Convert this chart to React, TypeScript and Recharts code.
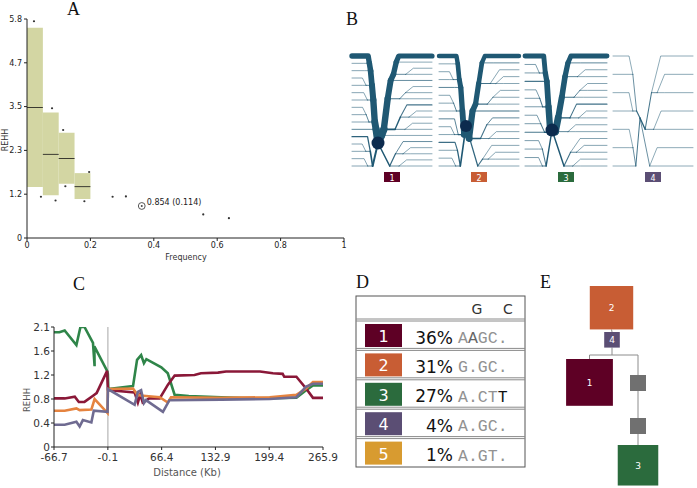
import React from 'react';
import { ScatterChart, Scatter, LineChart, Line, XAxis, YAxis, ReferenceArea, ReferenceLine } from 'recharts';

const SANS = '"DejaVu Sans", Verdana, sans-serif';
const SERIF = '"Liberation Serif", "Times New Roman", serif';
const MONO = '"Liberation Mono", "Courier New", monospace';

// haplotype colours, shared by B, D and E
const hapColors = ['#5e0025', '#c85d34', '#2b6b3d', '#5b4e74', '#d89b30'];

// ---- A: REHH against allele frequency
const freqTicks = [0, 0.2, 0.4, 0.6, 0.8, 1];
const rehhTicksA = [0, 1.168, 2.336, 3.504, 4.672, 5.84];
const rehhTickLabelsA = ['0', '1.2', '2.3', '3.5', '4.7', '5.8'];
const binFrom = [0, 0.05, 0.1, 0.15];
const binTo = [0.05, 0.1, 0.15, 0.2];
const binLow = [1.36, 1.14, 1.45, 1.04];
const binHigh = [5.61, 3.35, 2.81, 1.73];
const binMedian = [3.48, 2.23, 2.12, 1.37];
const pointFreq = [0.022, 0.079, 0.114, 0.196, 0.121, 0.044, 0.09, 0.181, 0.27, 0.312, 0.556, 0.637];
const pointRehh = [5.78, 3.46, 2.88, 1.76, 1.38, 1.1, 1.0, 0.98, 1.1, 1.11, 0.63, 0.53];
const coreFreq = [0.362];
const coreRehh = [0.854];
const coreNote = '0.854 (0.114)';

// ---- C: REHH against distance from core, one series per haplotype
const distTicks = [-66.7, -0.1, 66.4, 132.9, 199.4, 265.9];
const rehhTicksC = [0, 0.41, 0.82, 1.23, 1.64, 2.05];
const rehhTickLabelsC = ['0', '0.4', '0.8', '1.2', '1.6', '2.1'];

const hap3Dist = [-66.7, -60, -53.5, -39, -34, -29, -18.5, -16.5, -16.8, -1, -0.1, 0.5, 31, 36, 41, 44.5, 47.5, 66, 74, 82.5, 100, 140, 180, 233, 245, 253.5, 265.9];
const hap3Rehh = [1.96, 1.96, 1.99, 1.74, 2.05, 2.05, 1.78, 1.38, 1.72, 1.3, 1.25, 0.99, 1.04, 1.49, 1.57, 1.43, 1.5, 1.36, 1.26, 0.89, 0.87, 0.85, 0.83, 0.84, 0.97, 1.05, 1.05];
const hap1Dist = [-66.7, -53.5, -41, -36, -29, -18, -14, -1, -0.1, 2, 33, 37, 40, 43, 51, 64, 74, 82.5, 107, 115, 136, 146, 188, 204, 216, 218, 233, 245, 253.5, 265.9];
const hap1Rehh = [0.83, 0.83, 0.86, 0.77, 0.77, 0.88, 0.92, 1.3, 0.98, 0.97, 0.93, 0.76, 0.9, 0.76, 0.83, 0.83, 1.06, 1.22, 1.23, 1.26, 1.27, 1.29, 1.29, 1.26, 1.25, 1.2, 1.2, 1.0, 0.84, 0.84];
const hap2Dist = [-66.7, -53.5, -39, -35, -20.5, -16.5, -0.5, -0.1, 31, 36, 40, 64, 74, 78, 140, 200, 233, 245, 253.5, 265.9];
const hap2Rehh = [0.62, 0.62, 0.66, 0.63, 0.64, 0.82, 0.58, 0.99, 1.0, 0.9, 0.88, 0.85, 0.76, 0.85, 0.84, 0.85, 0.89, 1.0, 1.11, 1.11];
const hap4Dist = [-66.7, -53.5, -39, -35, -31, -20.5, -17.5, -0.5, -0.1, 33, 37, 41, 44.5, 47, 68, 76, 140, 200, 233, 245, 253.5, 265.9];
const hap4Rehh = [0.38, 0.38, 0.43, 0.35, 0.46, 0.42, 0.62, 0.6, 0.99, 0.72, 0.94, 0.97, 0.75, 0.8, 0.6, 0.8, 0.81, 0.82, 0.85, 1.03, 1.08, 1.08];

const lineSeries = [
  { name: '3', dist: hap3Dist, rehh: hap3Rehh, color: '#2f8549' },
  { name: '1', dist: hap1Dist, rehh: hap1Rehh, color: '#8a1838' },
  { name: '2', dist: hap2Dist, rehh: hap2Rehh, color: '#e5833f' },
  { name: '4', dist: hap4Dist, rehh: hap4Rehh, color: '#6f6b91' },
];

// ---- B: bifurcation diagrams (leaf = number of chromosomes on that branch)
type Tree = number | Tree[];
const bifLeftTrees: Tree[] = [
  [[[[[[[28, 1], 1], [1, 1]], [1, 1]], [[1, 1], 1]], 2], [[4, [1, 1]], [1, 1]]],
  [[[[[[22, 1], [1, 1]], 2], [[1, 1], 1]], [2, [1, 1]]], [[3, 1], [1, 1]]],
  [[[[[20, [1, 1]], 2], [[1, 1], 1]], [[1, 1], 2]], [[1, 1], [1, 1]]],
  [[[1, 1], [1, 1]], [[1, 1], 1]],
];
const bifRightTrees: Tree[] = [
  [[[[[[[30, 1], [1, 1]], 2], [[1, 1], 1]], [[3, [1, 1]], [1, 1]]], 1], [[2, [1, 1]], [1, 1]]],
  [[[[[[24, 2], [1, [1, 1]]], [[1, 1], 1]], 3], [[2, 1], [1, 1]]], [[1, [1, 1]], 1]],
  [[[[[[26, 2], [1, 1]], [[1, 1], 1]], [3, [1, 1]]], [1, 1]], [[1, [1, 1]], [1, 1]]],
  [[[1, [1, 1]], [1, 1]], [1, 1]],
];
const bifLabels = ['1', '2', '3', '4'];

// ---- D: haplotype table
const hapIds = ['1', '2', '3', '4', '5'];
const hapPercent = [36, 31, 27, 4, 1];
const hapSeq = ['AAGC.', 'G.GC.', 'A.CTT', 'A.GC.', 'A.GT.'];
const hapSeqStrong = [[1], [], [4], [], []];
const seqHeader = ['G', 'C'];

// ---- E: haplotype network (ids, frequencies; grey = inferred node)
const netNodes = ['2', '4', '1', '', '', '3'];
const netFreq = [31, 4, 36, 0, 0, 27];
const netColor = [hapColors[1], hapColors[3], hapColors[0], '#707070', '#707070', hapColors[2]];

// layout constants (pixels)
const BIF = {
  left: [352, 439, 525, 613],
  right: [432, 519, 607, 693],
  core: [378, 466, 552, 640],
  coreY: [143, 126, 130, 118],
  top: 56,
  bottom: 166,
  coreR: [6.5, 6, 6.5, 0],
  maxW: [8, 7, 7.5, 1],
};
const NET = { cx: [611.5, 612, 589.5, 638, 638, 638], top: [286, 332, 359, 375, 418, 445] };

const sumCount = (t: Tree): number => (typeof t === 'number' ? t : t.reduce((s: number, c) => s + sumCount(c), 0));
const leafCount = (t: Tree): number => (typeof t === 'number' ? 1 : t.reduce((s: number, c) => s + leafCount(c), 0));

type Seg = { pts: number[][]; w: number };

function layoutSide(tree: Tree, coreX: number, coreY: number, edgeX: number, top: number, bottom: number, maxW: number, segs: Seg[]) {
  const n = leafCount(tree);
  const dy = (bottom - top) / Math.max(1, n - 1);
  const span = edgeX - coreX;
  const base = span / 4.5;
  const clampX = (v: number) => (span > 0 ? Math.min(v, edgeX - 4) : Math.max(v, edgeX + 4));
  const total = sumCount(tree);
  const width = (c: number) => 0.6 + (maxW * c) / total;
  let li = 0;
  const place = (t: Tree, x: number, isRoot: boolean): number => {
    if (typeof t === 'number') {
      const y = top + li * dy;
      li++;
      return y;
    }
    const pc = sumCount(t);
    const kx = t.map((k) => clampX(x + base * (0.18 + 0.9 * (1 - sumCount(k) / pc))));
    const ys = t.map((k, i) => place(k, kx[i], false));
    const y = isRoot ? coreY : ys[ys.length - 1];
    t.forEach((k, i) => {
      const c = sumCount(k);
      if (typeof k === 'number') segs.push({ pts: [[x, y], [kx[i], ys[i]], [edgeX, ys[i]]], w: width(c) });
      else segs.push({ pts: [[x, y], [kx[i], ys[i]]], w: width(c) });
    });
    return y;
  };
  place(tree, coreX, true);
}

function Bifurcation({ i }: { i: number }) {
  const segs: Seg[] = [];
  layoutSide(bifLeftTrees[i], BIF.core[i], BIF.coreY[i], BIF.left[i], BIF.top, BIF.bottom, BIF.maxW[i], segs);
  layoutSide(bifRightTrees[i], BIF.core[i], BIF.coreY[i], BIF.right[i], BIF.top, BIF.bottom, BIF.maxW[i], segs);
  segs.sort((a, b) => a.w - b.w);
  const lx = (BIF.left[i] + BIF.right[i]) / 2;
  return (
    <g>
      {segs.map((s, k) => (
        <polyline
          key={k}
          points={s.pts.map((p) => p.join(',')).join(' ')}
          fill="none"
          stroke="#1f5873"
          strokeOpacity={Math.min(1, 0.35 + s.w / 2.2)}
          strokeWidth={s.w}
          strokeLinecap="round"
          strokeLinejoin="round"
        />
      ))}
      {BIF.coreR[i] > 0 && <circle cx={BIF.core[i]} cy={BIF.coreY[i]} r={BIF.coreR[i]} fill="#0c2b4e" />}
      <rect x={lx - 8} y={172} width={16} height={10} fill={hapColors[i]} />
      <text x={lx} y={180.5} fontSize={8} fill="#fff" textAnchor="middle" fontFamily={SANS}>{bifLabels[i]}</text>
    </g>
  );
}

function HapTable() {
  const x0 = 356, y0 = 296, w = 169, head = 24, rowH = 29.4;
  return (
    <g fontFamily={SANS}>
      <rect x={x0} y={y0} width={w} height={head + rowH * 5} fill="#fff" stroke="#555" strokeWidth={1} />
      <text x={477} y={313.5} fontSize={14} fill="#333" textAnchor="middle">{seqHeader[0]}</text>
      <text x={508} y={313.5} fontSize={14} fill="#333" textAnchor="middle">{seqHeader[1]}</text>
      {hapIds.map((id, i) => {
        const top = y0 + head + rowH * i;
        return (
          <g key={id}>
            <line x1={x0} x2={x0 + w} y1={top - 1} y2={top - 1} stroke="#8a8a8a" strokeWidth={1} />
            <line x1={x0} x2={x0 + w} y1={top + 1} y2={top + 1} stroke="#8a8a8a" strokeWidth={1} />
            <rect x={365} y={top + 4} width={37} height={23} fill={hapColors[i]} />
            <text x={383.5} y={top + 22} fontSize={16} fill="#fff" textAnchor="middle">{id}</text>
            <text x={453} y={top + 23.5} fontSize={17} fill="#111" textAnchor="end">{hapPercent[i]}%</text>
            <text x={458} y={top + 23} fontSize={16.5} fontFamily={MONO}>
              {hapSeq[i].split('').map((ch, k) => (
                <tspan key={k} fill={hapSeqStrong[i].includes(k) ? (i === 2 ? '#111' : '#666') : '#929292'}>{ch}</tspan>
              ))}
            </text>
          </g>
        );
      })}
    </g>
  );
}

function HapNetwork() {
  const size = netFreq.map((f) => (f > 0 ? 78 * Math.sqrt(f / 100) : 16));
  const bottom = NET.top.map((t, i) => t + size[i]);
  const edge = '#8c8c8c';
  return (
    <g fontFamily={SANS}>
      <line x1={NET.cx[0]} x2={NET.cx[1]} y1={bottom[0]} y2={NET.top[1]} stroke={edge} />
      <line x1={NET.cx[1]} x2={NET.cx[1]} y1={bottom[1]} y2={355} stroke={edge} />
      <line x1={NET.cx[2]} x2={NET.cx[3]} y1={355} y2={355} stroke={edge} />
      <line x1={NET.cx[2]} x2={NET.cx[2]} y1={355} y2={NET.top[2]} stroke={edge} />
      <line x1={NET.cx[3]} x2={NET.cx[3]} y1={355} y2={NET.top[3]} stroke={edge} />
      <line x1={NET.cx[3]} x2={NET.cx[4]} y1={bottom[3]} y2={NET.top[4]} stroke={edge} />
      <line x1={NET.cx[4]} x2={NET.cx[5]} y1={bottom[4]} y2={NET.top[5]} stroke={edge} />
      {netNodes.map((id, i) => (
        <g key={i}>
          <rect x={NET.cx[i] - size[i] / 2} y={NET.top[i]} width={size[i]} height={size[i]} fill={netColor[i]} />
          {id && (
            <text x={NET.cx[i]} y={NET.top[i] + size[i] / 2 + 3.5} fontSize={9} fill="#fff" textAnchor="middle">{id}</text>
          )}
        </g>
      ))}
    </g>
  );
}

const dotShape = (p: any) => <circle cx={p.cx} cy={p.cy} r={1.1} fill="#333" />;
const coreShape = (p: any) => (
  <g>
    <circle cx={p.cx} cy={p.cy} r={3.4} fill="none" stroke="#444" strokeWidth={0.9} />
    <circle cx={p.cx} cy={p.cy} r={1} fill="#444" />
    <text x={p.cx + 5} y={p.cy - 1} fontSize={8} fill="#222" fontFamily={SANS}>{coreNote}</text>
  </g>
);

export default function App() {
  const points = pointFreq.map((f, i) => ({ x: f, y: pointRehh[i] }));
  const corePoint = coreFreq.map((f, i) => ({ x: f, y: coreRehh[i] }));
  const tickA = { fontSize: 8, fill: '#222', fontFamily: SANS };
  const tickC = { fontSize: 10.5, fill: '#333', fontFamily: SANS };

  return (
    <div style={{ position: 'absolute', left: 0, top: 0, width: 697, height: 488, background: '#fff', overflow: 'hidden' }}>
      <div style={{ position: 'absolute', left: 0, top: 0 }}>
        <ScatterChart width={360} height={265} margin={{ top: 19, right: 16, bottom: 7, left: 0 }}>
          <XAxis dataKey="x" type="number" domain={[0, 1]} ticks={freqTicks} interval={0} tick={tickA} tickSize={3} tickMargin={1} height={20} stroke="#222" allowDataOverflow />
          <YAxis
            dataKey="y"
            type="number"
            domain={[0, 5.84]}
            ticks={rehhTicksA}
            interval={0}
            tickFormatter={(v: number) => rehhTickLabelsA[rehhTicksA.indexOf(v)]}
            tick={tickA}
            tickSize={3}
            tickMargin={2}
            width={27}
            stroke="#222"
            allowDataOverflow
          />
          {binFrom.map((b, i) => (
            <ReferenceArea key={'a' + i} x1={b} x2={binTo[i]} y1={binLow[i]} y2={binHigh[i]} fill="#d3d6a3" fillOpacity={1} stroke="none" ifOverflow="visible" />
          ))}
          {binFrom.map((b, i) => (
            <ReferenceLine key={'m' + i} segment={[{ x: b, y: binMedian[i] }, { x: binTo[i], y: binMedian[i] }]} stroke="#3a3a30" strokeWidth={1} ifOverflow="visible" />
          ))}
          <Scatter data={points} shape={dotShape} isAnimationActive={false} />
          <Scatter data={corePoint} shape={coreShape} isAnimationActive={false} />
        </ScatterChart>
      </div>

      <div style={{ position: 'absolute', left: 0, top: 300 }}>
        <LineChart width={340} height={175} margin={{ top: 27, right: 17, bottom: 8, left: 0 }}>
          <XAxis dataKey="x" type="number" domain={[-66.7, 265.9]} ticks={distTicks} interval={0} tick={tickC} tickSize={3} tickMargin={4} height={20} stroke="#222" allowDataOverflow />
          <YAxis
            type="number"
            domain={[0, 2.05]}
            ticks={rehhTicksC}
            interval={0}
            tickFormatter={(v: number) => rehhTickLabelsC[rehhTicksC.indexOf(v)]}
            tick={tickC}
            tickSize={3}
            tickMargin={1}
            width={54}
            stroke="#222"
            allowDataOverflow
          />
          <ReferenceLine x={-0.1} stroke="#c4c4c4" strokeWidth={1.5} />
          {lineSeries.map((s) => (
            <Line
              key={s.name}
              data={s.dist.map((d, i) => ({ x: d, y: s.rehh[i] }))}
              dataKey="y"
              type="linear"
              stroke={s.color}
              strokeWidth={2.6}
              dot={false}
              isAnimationActive={false}
            />
          ))}
        </LineChart>
      </div>

      <svg width={697} height={488} style={{ position: 'absolute', left: 0, top: 0, pointerEvents: 'none' }}>
        <g fontFamily={SERIF} fontSize={18} fill="#111">
          <text x={67} y={15}>A</text>
          <text x={346} y={25}>B</text>
          <text x={73} y={290}>C</text>
          <text x={356} y={288}>D</text>
          <text x={540} y={288}>E</text>
        </g>
        <g fontFamily={SANS}>
          <text x={8} y={140} fontSize={8} fill="#333" textAnchor="middle" transform="rotate(-90 8 140)">REHH</text>
          <text x={186} y={260} fontSize={8} fill="#333" textAnchor="middle">Frequency</text>
          <text x={30} y={400} fontSize={8.5} fill="#555" textAnchor="middle" transform="rotate(-90 30 400)">REHH</text>
          <text x={187} y={476} fontSize={10} fill="#555" textAnchor="middle">Distance (Kb)</text>
        </g>
        {bifLabels.map((_, i) => (
          <Bifurcation key={i} i={i} />
        ))}
        <HapTable />
        <HapNetwork />
      </svg>
    </div>
  );
}
